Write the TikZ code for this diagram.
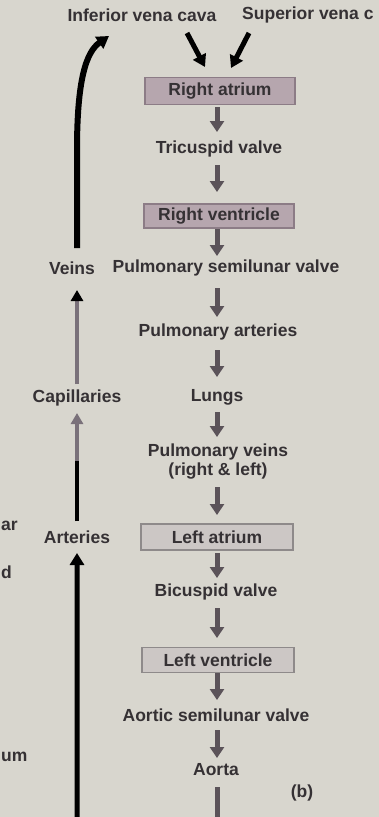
\documentclass[tikz,border=0pt]{standalone}
\usepackage{fontspec}
\setmainfont{Liberation Sans}
\usetikzlibrary{arrows.meta,calc}
\definecolor{bg}{HTML}{D8D6CE}
\definecolor{txt}{HTML}{353134}
\definecolor{rfill}{HTML}{B6A6AE}
\definecolor{rdraw}{HTML}{8C7C86}
\definecolor{lfill}{HTML}{CCC7C5}
\definecolor{ldraw}{HTML}{8E8A8A}
\definecolor{garr}{HTML}{5B5359}
\definecolor{lgarr}{HTML}{7A717A}
\begin{document}
\begin{tikzpicture}[x=1pt,y=-1pt,
  lab/.style={font=\fontsize{17.5}{19}\selectfont\bfseries, text=txt, inner sep=0pt, align=center},
  rbox/.style={lab, fill=rfill, draw=rdraw, line width=1.5pt, minimum width=150pt, minimum height=27pt},
  lbox/.style={lab, fill=lfill, draw=ldraw, line width=1.5pt, minimum width=152pt, minimum height=26pt},
  garrow/.style={draw=garr, line width=5pt, -{Triangle[width=14pt,length=11pt]}},
  gline/.style={draw=garr, line width=5pt},
  larrow/.style={draw=lgarr, line width=4pt, -{Triangle[width=12pt,length=11pt]}},
  barrow/.style={draw=black, line width=5pt, -{Triangle[width=14pt,length=12pt]}},
  frag/.style={lab, anchor=west}]
\useasboundingbox (0,0) rectangle (379,817);
\clip (0,0) rectangle (379,817);
\fill[bg] (0,0) rectangle (379,817);

% main column
\node[lab] (ivc) at (142,15) {Inferior vena cava};
\node[lab, anchor=west] (svc) at (242,15) {Superior vena c};
\node[rbox] (ra) at (220,91) {Right atrium};
\node[lab] (tv) at (219,149) {Tricuspid valve};
\node[rbox, minimum height=24pt] (rv) at (219,216) {Right ventricle};
\node[lab] (veins) at (72,268) {Veins};
\node[lab] (psv) at (226,268) {Pulmonary semilunar valve};
\node[lab] (pa) at (218,332) {Pulmonary arteries};
\node[lab] (lungs) at (217,397) {Lungs};
\node[lab] (pv) at (218,462) {Pulmonary veins\\(right \& left)};
\node[lbox] (la) at (217,537) {Left atrium};
\node[lab] (bv) at (216,592) {Bicuspid valve};
\node[lbox, minimum height=25pt] (lv) at (218,660) {Left ventricle};
\node[lab] (asv) at (216,715) {Aortic semilunar valve};
\node[lab] (aorta) at (216,770) {Aorta};
\node[lab] (b) at (302,793) {(b)};

% left column
\node[lab] (cap) at (77,398) {Capillaries};
\node[lab] (art) at (77,537) {Arteries};

% fragments at the left edge
\node[frag] (f1) at (1,526) {ar};
\node[frag] (f2) at (1,572) {d};
\node[frag] (f3) at (1,757) {um};

% grey arrows of the main column
\draw[garrow] ($(ra)+(-3,16)$) -- ++(0,25);
\draw[garrow] ($(tv)+(-2,16)$) -- ++(0,27);
\draw[garrow] ($(rv)+(-2,13)$) -- ++(0,27);
\draw[garrow] ($(pa)+(-1,-44)$) -- ++(0,29);
\draw[garrow] ($(pa)+(-1,18)$) -- ++(0,27);
\draw[garrow] ($(lungs)+(0,15)$) -- ++(0,25);
\draw[garrow] ($(la)+(0,-50)$) -- ++(0,28);
\draw[garrow] ($(la)+(0,16)$) -- ++(0,25);
\draw[garrow] ($(bv)+(1,16)$) -- ++(0,30);
\draw[garrow] ($(lv)+(-1,13)$) -- ++(0,27);
\draw[garrow] ($(asv)+(1,15)$) -- ++(0,28);

% vena cava arrows
\draw[barrow] ($(ivc)+(45,18)$) -- ($(ra)+(-15,-24)$);
\draw[barrow] ($(svc.west)+(7,18)$) -- ($(ra)+(11,-23)$);

% return loop from the aorta to the arteries
\coordinate (botr) at (217,828);
\coordinate (botl) at (77,828);
\draw[gline] ($(aorta)+(1,17)$) -- (botr);
\draw[barrow, rounded corners=10pt] (botr) -- (botl) -- ($(art)+(0,16)$);

% arteries -> capillaries -> veins
\draw[larrow] ($(art)+(0,-16)$) -- ($(cap)+(0,15)$);
\draw[draw=black, line width=4pt] ($(art)+(0,-16)$) -- ++(0,-60);
\draw[draw=lgarr, line width=4pt, -{Triangle[width=12pt,length=11pt,color=black]}] ($(cap)+(0,-14)$) -- ($(veins)+(5,22)$);

% veins -> venae cavae
\draw[barrow, line width=6pt] ($(veins)+(5,-20)$) -- (77,150) .. controls (77,80) and (86,52) .. ($(ivc)+(-33,21)$);
\end{tikzpicture}
\end{document}
